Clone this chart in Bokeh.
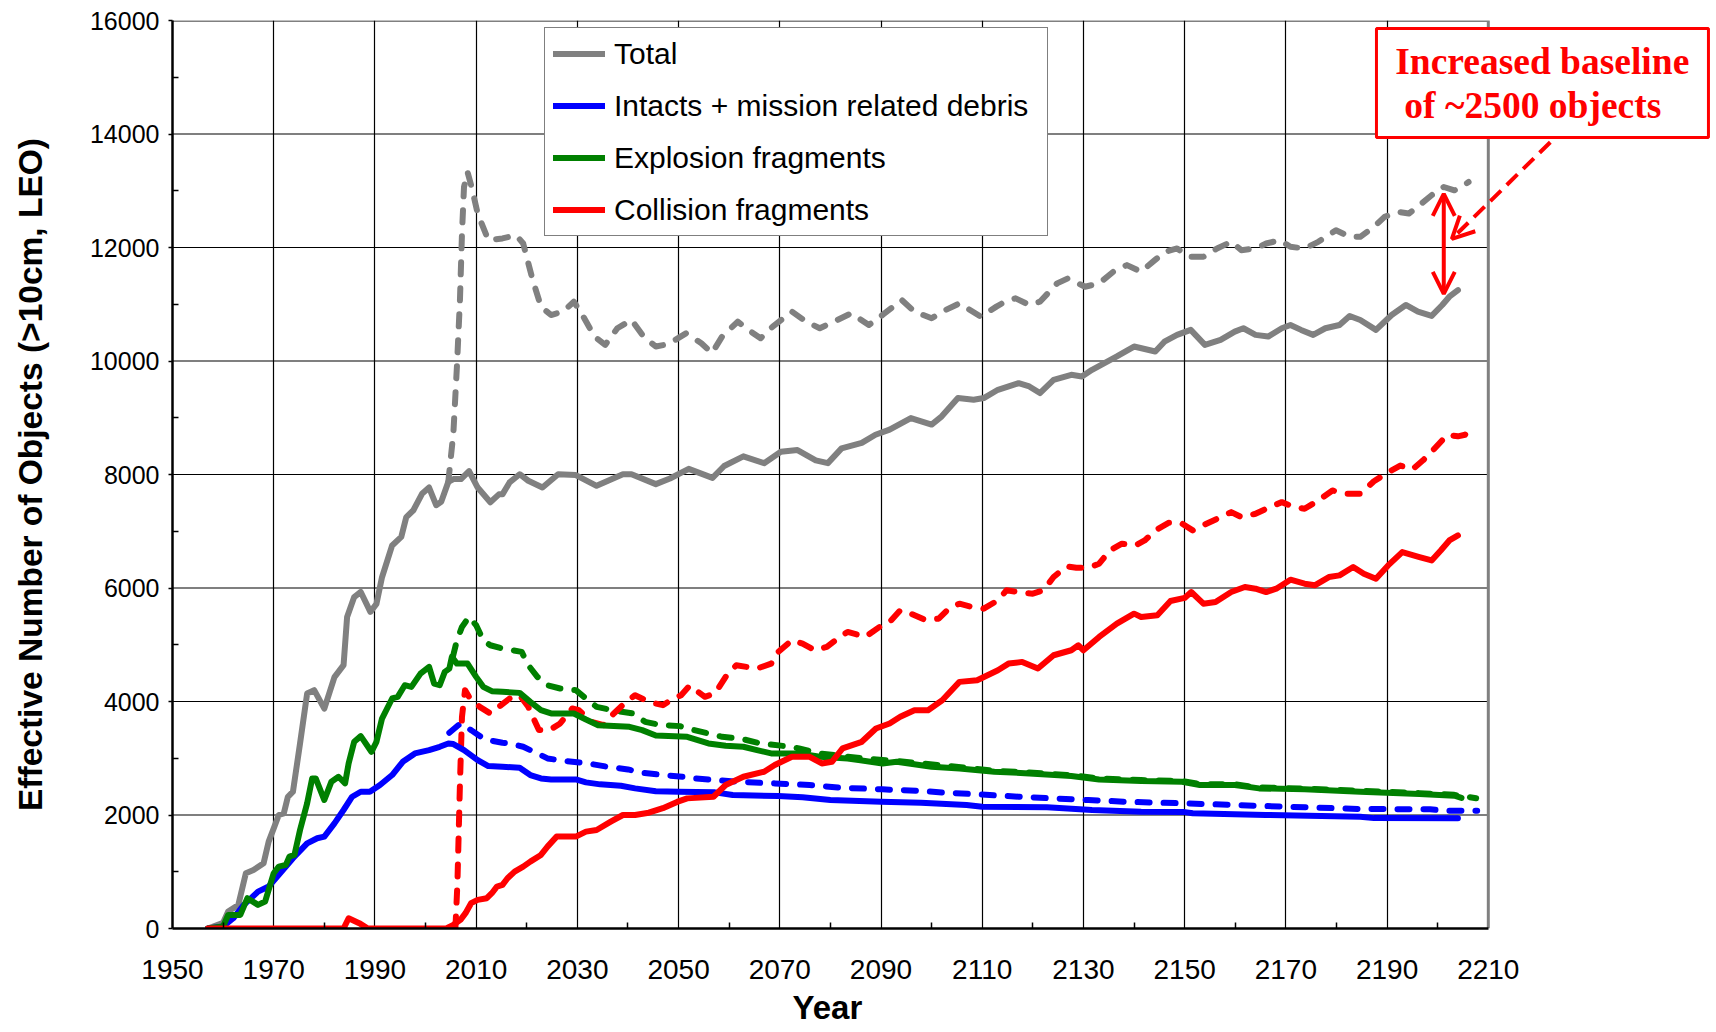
import math
from bokeh.plotting import figure
from bokeh.models import (Range1d, FixedTicker, Legend, LegendItem, Label, Title,
                          BoxAnnotation, Arrow, OpenHead)
from bokeh.embed import file_html
from bokeh.resources import INLINE

# ---------------- data ----------------
x_ticks = [1950, 1970, 1990, 2010, 2030, 2050, 2070, 2090, 2110, 2130, 2150, 2170, 2190, 2210]
x_minor = [1960, 1980, 2000, 2020, 2040, 2060, 2080, 2100, 2120, 2140, 2160, 2180, 2200]
y_ticks = [0, 2000, 4000, 6000, 8000, 10000, 12000, 14000, 16000]
y_minor = [1000, 3000, 5000, 7000, 9000, 11000, 13000, 15000]

series_labels = ["Total", "Intacts + mission related debris", "Explosion fragments", "Collision fragments"]

total_solid_x = [1957, 1960, 1961, 1963, 1964.5, 1966, 1968, 1969, 1970, 1971, 1972, 1972.8, 1973.8, 1975.2,
                 1976.6, 1978, 1980, 1982, 1983.8, 1984.5, 1985.9, 1987.2, 1989.1, 1990.3, 1991.4, 1993.4,
                 1995.2, 1996.2, 1997.6, 1999.3, 2000.7, 2002.1, 2003.1, 2004.5, 2005.5, 2007, 2008.6, 2010.3,
                 2012.8, 2014.5, 2015.2, 2016.6, 2018.6, 2020.3, 2023.1, 2026.2, 2029.7, 2033.8, 2039, 2040.7,
                 2045.5, 2048.3, 2052, 2056.7, 2059, 2062.8, 2066.9, 2070.2, 2073.5, 2077.1, 2079.5, 2082.2,
                 2086.2, 2088.9, 2091.7, 2095.9, 2100, 2102, 2105.2, 2108.3, 2110.3, 2113.1, 2117.2, 2119.3,
                 2121.4, 2124.1, 2127.6, 2129.7, 2131.7, 2136.6, 2140, 2144.2, 2146, 2148.5, 2151.2, 2154,
                 2157.1, 2159.9, 2161.6, 2164, 2166.5, 2169.2, 2170.9, 2173, 2175.4, 2177.8, 2180.6, 2182.6,
                 2184.7, 2187.8, 2190.9, 2193.7, 2196.1, 2198.8, 2200.9, 2202.3, 2204]
total_solid_y = [0, 100, 300, 415, 975, 1030, 1150, 1530, 1765, 2000, 2030, 2320, 2410, 3260,
                 4140, 4200, 3875, 4430, 4640, 5490, 5840, 5930, 5580, 5720, 6190, 6750,
                 6900, 7250, 7370, 7660, 7770, 7460, 7520, 7870, 7920, 7920, 8060, 7770,
                 7510, 7650, 7650, 7860, 8005, 7890, 7770, 8005, 7990, 7800, 8005, 8005,
                 7830, 7930, 8100, 7940, 8150, 8320, 8200, 8400, 8430, 8250, 8200, 8460,
                 8556, 8700, 8790, 8995, 8880, 9025, 9347, 9318, 9347, 9493, 9610, 9552,
                 9435, 9669, 9757, 9728, 9845, 10080, 10255, 10167, 10340, 10460, 10548, 10284,
                 10372, 10518, 10577, 10460, 10430, 10577, 10635, 10548, 10460, 10577, 10635, 10794,
                 10723, 10548, 10811, 10987, 10870, 10794, 10987, 11133, 11250]

total_dash_x = [2004.5, 2005.5, 2006.2, 2006.8, 2007.2, 2007.6, 2008.3, 2009.1, 2010.3, 2012.4, 2015.2, 2017.9,
                2019.3, 2021, 2022.8, 2024.8, 2027.2, 2029.3, 2031, 2033.4, 2035.5, 2037.9, 2040.7, 2043.1,
                2045.5, 2048, 2051.5, 2054.5, 2056.6, 2058.6, 2061.7, 2063.8, 2066.2, 2068.6, 2072.4, 2075.2,
                2077.9, 2081.4, 2084.1, 2087.6, 2090.3, 2094.1, 2096.6, 2100, 2102.8, 2105.5, 2109.7, 2112.8,
                2114.5, 2116.6, 2119.3, 2121.4, 2124.8, 2126.9, 2130.3, 2133.1, 2135.9, 2138.6, 2141.4, 2144.1,
                2146.1, 2148.5, 2150.9, 2153.7, 2156.4, 2159.2, 2161.2, 2164, 2166.1, 2168.8, 2170.9, 2173.7,
                2176.4, 2179.9, 2182.6, 2184.7, 2187.4, 2189.5, 2192.3, 2194.3, 2196.8, 2199.2, 2201.2, 2203.3,
                2204.7, 2206.1]
total_dash_y = [7870, 8730, 9900, 11075, 12246, 13066, 13330, 13066, 12600, 12130, 12160, 12217,
                12070, 11485, 10958, 10810, 10870, 11045, 10810, 10430, 10284, 10577, 10723, 10430,
                10255, 10300, 10489, 10313, 10138, 10430, 10694, 10548, 10401, 10606, 10870, 10694,
                10577, 10723, 10840, 10635, 10811, 11075, 10870, 10753, 10900, 11016, 10782, 10958,
                11045, 11104, 10987, 11045, 11368, 11455, 11309, 11368, 11573, 11690, 11573, 11778,
                11924, 11983, 11836, 11836, 11983, 12100, 11953, 11983, 12070, 12130, 12012, 11983,
                12100, 12305, 12188, 12188, 12363, 12540, 12627, 12598, 12774, 12950, 13066, 13007,
                13066, 13154]

intact_solid_x = [1957, 1960, 1962, 1964.1, 1966.9, 1969, 1971, 1973.8, 1976.6, 1978.6, 1980, 1982, 1983.8,
                  1985.5, 1987.2, 1989, 1991, 1993.4, 1995.5, 1997.9, 2000.7, 2002.8, 2004.5, 2005.5, 2007.6,
                  2010.3, 2012.4, 2015.2, 2018.6, 2020.7, 2022.8, 2024.8, 2029.7, 2031.7, 2034.5, 2038.6,
                  2041.4, 2045.5, 2050, 2057.2, 2060.7, 2069.7, 2074.5, 2080, 2090, 2097.9, 2106.9, 2110,
                  2122.8, 2131.7, 2141.4, 2149.7, 2151.6, 2166, 2184.7, 2187.4, 2204]
intact_solid_y = [0, 35, 180, 416, 650, 740, 945, 1237, 1500, 1590, 1620, 1853, 2088,
                  2322, 2410, 2410, 2528, 2704, 2938, 3085, 3143, 3202, 3260, 3250, 3143,
                  2968, 2862, 2850, 2833, 2704, 2645, 2627, 2627, 2575, 2540, 2516,
                  2469, 2420, 2410, 2399, 2352, 2334, 2311, 2264, 2235, 2217, 2176, 2147,
                  2135, 2088, 2059, 2055, 2030, 2000, 1970, 1945, 1941]

intact_dash_x = [2004.7, 2006.9, 2009, 2011.7, 2015.2, 2016.6, 2019.3, 2021.4, 2024.1, 2026.2, 2029, 2032.1,
                 2035.9, 2040, 2042.8, 2046.9, 2051, 2053.1, 2061.4, 2069, 2075.9, 2082.1, 2090.3, 2097.2,
                 2102.8, 2109, 2117.2, 2124.1, 2131, 2137.9, 2144.8, 2150.2, 2164, 2174.3, 2184.7, 2198.5,
                 2201.2, 2207.8]
intact_dash_y = [3449, 3613, 3496, 3331, 3273, 3261, 3202, 3114, 2997, 2968, 2938, 2909,
                 2850, 2803, 2745, 2704, 2674, 2645, 2587, 2557, 2528, 2481, 2452, 2428,
                 2393, 2364, 2323, 2293, 2264, 2235, 2217, 2205, 2164, 2135, 2106, 2100,
                 2076, 2076]

explo_solid_x = [1957, 1960, 1961, 1963.4, 1964.8, 1966.9, 1968.3, 1970, 1971, 1972.4, 1973.1, 1974.1, 1975.2,
                 1976.6, 1977.6, 1978.3, 1980, 1981.4, 1982.8, 1984.1, 1984.8, 1985.9, 1987.2, 1989.3, 1990.3,
                 1991.4, 1993.4, 1994.5, 1995.9, 1997.2, 1999, 2000.7, 2001.7, 2002.8, 2003.8, 2004.7, 2005.2,
                 2006.2, 2008.3, 2010, 2011.4, 2013.1, 2015.2, 2018.6, 2020.7, 2022.8, 2024.8, 2029.3, 2031.7,
                 2034.1, 2040.3, 2042.8, 2045.5, 2051.7, 2055.9, 2059.3, 2062.8, 2065.5, 2068.3, 2073.8,
                 2077.9, 2083.4, 2090.3, 2093.1, 2100, 2105.5, 2112.4, 2119.3, 2127.6, 2133.1, 2141.4,
                 2149.5, 2153, 2159.9, 2164.7, 2173.7, 2184.7, 2196.4, 2203.3, 2204.7]
explo_solid_y = [0, 35, 240, 240, 534, 416, 475, 974, 1090, 1120, 1267, 1296, 1736,
                 2205, 2645, 2645, 2264, 2587, 2674, 2557, 2909, 3290, 3390, 3114, 3290,
                 3700, 4053, 4082, 4287, 4258, 4492, 4610, 4317, 4287, 4522, 4580, 4786,
                 4668, 4668, 4434, 4258, 4182, 4170, 4152, 3994, 3847, 3789, 3789, 3683,
                 3583, 3554, 3496, 3400, 3378, 3261, 3220, 3202, 3143, 3085, 3085,
                 3026, 2997, 2909, 2938, 2850, 2821, 2762, 2733, 2686, 2627, 2598,
                 2587, 2528, 2528, 2469, 2452, 2410, 2369, 2340, 2300]

explo_dash_x = [2005.4, 2006.2, 2007.2, 2008.6, 2010, 2011.4, 2012.8, 2015.2, 2019, 2020.3, 2022.1, 2024.1,
                2026.6, 2029.7, 2031.7, 2033.8, 2037.9, 2041, 2043.4, 2046.2, 2050.3, 2053.1, 2058.6, 2062.1,
                2066.2, 2071, 2073.8, 2077.9, 2086.2, 2093.1, 2103.4, 2112.4, 2119.3, 2127.6, 2133.1, 2141.4,
                2149.5, 2153, 2159.9, 2164.7, 2173.7, 2184.7, 2196.4, 2203.3, 2207.6]
explo_dash_y = [4786, 5079, 5314, 5490, 5343, 5079, 4991, 4932, 4874, 4640, 4434, 4287,
                4229, 4200, 4053, 3906, 3830, 3789, 3642, 3590, 3566, 3496, 3378, 3349,
                3261, 3214, 3173, 3085, 3000, 2950, 2862, 2780, 2750, 2700, 2645, 2615,
                2600, 2545, 2540, 2485, 2465, 2425, 2385, 2355, 2295]

coll_solid_x = [1957, 1983.8, 1984.8, 1986.9, 1988.6, 2004.1, 2005.5, 2006.9, 2007.9, 2009, 2010.3, 2012.1,
                2013.1, 2014.1, 2015.2, 2016.2, 2017.6, 2019.3, 2020.7, 2022.8, 2024.1, 2025.9, 2029.7, 2031.7,
                2033.8, 2036.6, 2039, 2041.4, 2044.1, 2046.9, 2049.7, 2051.7, 2056.9, 2059.3, 2062.8, 2066.9,
                2069, 2072.4, 2075.9, 2078.3, 2080.3, 2082.4, 2086.2, 2089, 2091.7, 2093.8, 2096.6, 2099.3,
                2102.1, 2105.5, 2109, 2113.1, 2115.2, 2117.9, 2121, 2124.1, 2127.6, 2129, 2130, 2133.1,
                2136.6, 2140, 2141.4, 2144.6, 2147.2, 2150, 2151.3, 2153.7, 2156.1, 2159.2, 2161.9, 2164,
                2166.1, 2168.1, 2170.9, 2173.7, 2175.7, 2178.5, 2180.6, 2183.3, 2185.4, 2187.8, 2190.2, 2193,
                2196.4, 2198.8, 2200.6, 2202.3, 2204]
coll_solid_y = [0, 0, 180, 94, 0, 0, 65, 152, 270, 446, 504, 534,
                622, 739, 768, 886, 1003, 1090, 1179, 1296, 1443, 1619, 1619, 1707,
                1736, 1883, 2000, 2000, 2040, 2120, 2230, 2293, 2322, 2528, 2674, 2762,
                2880, 3026, 3026, 2909, 2938, 3173, 3290, 3525, 3613, 3730, 3847, 3847,
                4023, 4346, 4375, 4551, 4668, 4698, 4580, 4815, 4903, 4991, 4903, 5138,
                5372, 5548, 5490, 5519, 5770, 5825, 5929, 5724, 5753, 5929, 6017, 5988,
                5929, 5988, 6146, 6076, 6047, 6193, 6222, 6369, 6252, 6164, 6398, 6633,
                6545, 6486, 6662, 6838, 6926]

coll_dash_x = [2005.9, 2006.3, 2006.8, 2007.2, 2007.8, 2008.6, 2010.7, 2012.8, 2014.5, 2016.6, 2018.6, 2020.3,
               2022.4, 2024.5, 2026.6, 2029, 2030.3, 2032.8, 2035.2, 2037.2, 2039.3, 2041.4, 2044.1, 2046.9,
               2049, 2050.5, 2052.2, 2055.2, 2057.2, 2059.3, 2061.4, 2065.5, 2068.3, 2069.7, 2072.4, 2074.5,
               2076.9, 2079.3, 2081.4, 2083.4, 2086.9, 2089.7, 2091.7, 2093.8, 2095.9, 2098.6, 2101.4, 2103.4,
               2105.5, 2108, 2110.3, 2113.1, 2114.8, 2117.2, 2120, 2122.1, 2124.1, 2126.6, 2128.6, 2131,
               2133.1, 2135.2, 2137.6, 2140.3, 2142.1, 2144.5, 2146.9, 2149.2, 2151.6, 2154.3, 2157.1, 2159.2,
               2161.2, 2164, 2166.8, 2169.2, 2171.6, 2173.7, 2176.4, 2179.2, 2181.9, 2184.7, 2187.4, 2190.2,
               2192.6, 2195, 2197.1, 2199.2, 2201.9, 2204, 2205.4, 2207.1]
coll_dash_y = [0, 800, 2557, 3730, 4200, 4082, 3906, 3789, 3906, 4053, 4111, 3906,
               3496, 3496, 3613, 3877, 3847, 3642, 3583, 3789, 3965, 4111, 3994, 3935,
               4053, 4111, 4280, 4082, 4141, 4434, 4639, 4580, 4668, 4874, 5079, 5020,
               4903, 4962, 5108, 5226, 5138, 5314, 5401, 5607, 5548, 5443, 5460, 5636,
               5724, 5665, 5636, 5783, 5959, 5929, 5900, 5959, 6193, 6381, 6357, 6357,
               6428, 6662, 6780, 6750, 6838, 7030, 7150, 7150, 7015, 7132, 7249, 7337,
               7249, 7308, 7425, 7513, 7425, 7396, 7542, 7718, 7659, 7659, 7880, 8040,
               8157, 8090, 8250, 8440, 8700, 8673, 8700, 8880]

# ---------------- styling ----------------
GRAY, BLUE, GREEN, RED = "#808080", "#0000FF", "#008000", "#FF0000"
SANS = "Liberation Sans"
SERIF = "Liberation Serif"
DASH = "12 14"
LW = 6
X_VIEW_END = 2254.3   # range extends past 2210 so the callout box fits inside the frame

p = figure(width=1712, height=1032,
           x_range=Range1d(x_ticks[0], X_VIEW_END), y_range=Range1d(y_ticks[0], y_ticks[-1]),
           output_backend="svg", toolbar_location=None,
           min_border_left=172, min_border_right=0,
           min_border_top=20, min_border_bottom=104)
p.background_fill_color = "white"
p.border_fill_color = "white"
p.outline_line_color = None

# axes
p.xaxis.ticker = FixedTicker(ticks=x_ticks, minor_ticks=x_minor)
p.yaxis.ticker = FixedTicker(ticks=y_ticks, minor_ticks=y_minor)
p.xaxis.bounds = (x_ticks[0], x_ticks[-1])
for ax in (p.xaxis[0], p.yaxis[0]):
    ax.axis_line_color = "black"
    ax.axis_line_width = 2.5
    ax.major_tick_line_color = "black"
    ax.major_tick_line_width = 1.5
    ax.minor_tick_line_color = "black"
    ax.minor_tick_line_width = 1.5
    ax.minor_tick_in = 6
    ax.minor_tick_out = 0
    ax.major_tick_in = 0
    ax.major_label_text_font = SANS
    ax.major_label_text_color = "black"
p.xaxis.major_label_text_font_size = "28px"
p.yaxis.major_label_text_font_size = "25px"
p.xaxis.major_tick_out = 0
p.yaxis.major_tick_out = 4
p.xaxis.major_label_standoff = 31
p.yaxis.major_label_standoff = 9

p.yaxis.axis_label = "Effective Number of Objects (>10cm, LEO)"
p.yaxis.axis_label_text_font = SANS
p.yaxis.axis_label_text_font_style = "bold"
p.yaxis.axis_label_text_font_size = "33.5px"
p.yaxis.axis_label_text_color = "black"
p.yaxis.axis_label_standoff = 38

p.add_layout(Title(text="Year", align="left", offset=620, standoff=11,
                   text_font=SANS, text_font_style="bold", text_font_size="33px",
                   text_color="black"), "below")

# grid (vertical via Grid, horizontal drawn only up to the last x tick)
p.xgrid.ticker = FixedTicker(ticks=x_ticks[1:-1])
p.xgrid.grid_line_color = "black"
p.xgrid.grid_line_width = 1.2
p.ygrid.visible = False
grid_y = y_ticks[1:-1]
p.multi_line(xs=[[x_ticks[0], x_ticks[-1]] for _ in grid_y], ys=[[v, v] for v in grid_y],
             line_color="black", line_width=1.2, level="underlay")
# gray top/right plot border
p.line([x_ticks[0], x_ticks[-1], x_ticks[-1]], [y_ticks[-1], y_ticks[-1], y_ticks[0]],
       line_color=GRAY, line_width=3, level="underlay")

# lines: dashed (with extra baseline) first, then solid
kw = dict(line_width=LW, line_cap="round", line_join="round")
p.line(total_dash_x, total_dash_y, line_color=GRAY, line_dash=DASH, **kw)
p.line(intact_dash_x, intact_dash_y, line_color=BLUE, line_dash=DASH, **kw)
p.line(explo_dash_x, explo_dash_y, line_color=GREEN, line_dash=DASH, **kw)
p.line(coll_dash_x, coll_dash_y, line_color=RED, line_dash=DASH, **kw)
r_total = p.line(total_solid_x, total_solid_y, line_color=GRAY, **kw)
r_intact = p.line(intact_solid_x, intact_solid_y, line_color=BLUE, **kw)
r_explo = p.line(explo_solid_x, explo_solid_y, line_color=GREEN, **kw)
r_coll = p.line(coll_solid_x, coll_solid_y, line_color=RED, **kw)

legend = Legend(items=[LegendItem(label=series_labels[0], renderers=[r_total]),
                       LegendItem(label=series_labels[1], renderers=[r_intact]),
                       LegendItem(label=series_labels[2], renderers=[r_explo]),
                       LegendItem(label=series_labels[3], renderers=[r_coll])],
                location=(372, 692), orientation="vertical",
                border_line_color="black", border_line_width=1.5,
                background_fill_color="white", background_fill_alpha=1.0,
                label_text_font=SANS, label_text_font_size="30px", label_text_color="black",
                glyph_width=52, glyph_height=35, label_height=35, label_width=425,
                label_standoff=9, padding=8, spacing=17, margin=0)
p.add_layout(legend)

# annotation box and arrows
p.add_layout(BoxAnnotation(left=2187.9, right=2253.5, bottom=13938, top=15859,
                           fill_color="white", fill_alpha=1.0,
                           line_color=RED, line_width=3, line_alpha=1.0))
p.add_layout(Label(x=2191.6, y=15269, text="Increased baseline", text_align="left",
                   text_baseline="middle", text_font=SERIF, text_font_style="bold",
                   text_font_size="37.5px", text_color=RED))
p.add_layout(Label(x=2193.4, y=14500, text="of ~2500 objects", text_align="left",
                   text_baseline="middle", text_font=SERIF, text_font_style="bold",
                   text_font_size="37.5px", text_color=RED))
p.add_layout(Arrow(end=OpenHead(size=22, line_color=RED, line_width=4),
                   x_start=2222.25, y_start=13855, x_end=2202.8, y_end=12153,
                   line_color=RED, line_width=4, line_dash="15 8"))
p.add_layout(Arrow(start=OpenHead(size=22, line_color=RED, line_width=4),
                   end=OpenHead(size=22, line_color=RED, line_width=4),
                   x_start=2201.2, y_start=11184, x_end=2201.2, y_end=12946,
                   line_color=RED, line_width=4))

open("out.html", "w").write(file_html(p, INLINE))
